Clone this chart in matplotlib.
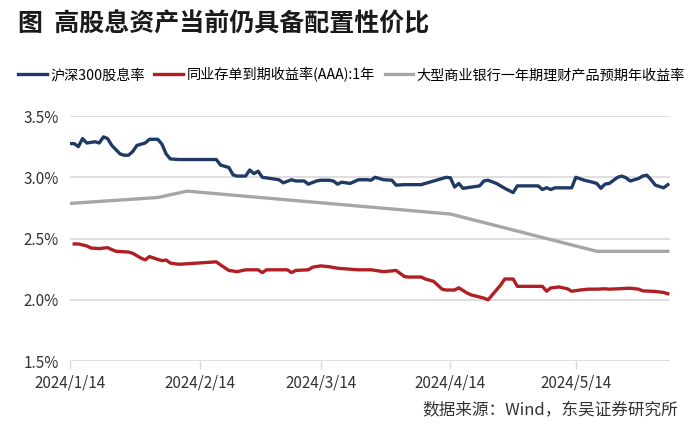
import matplotlib
matplotlib.use("Agg")
import matplotlib.pyplot as plt
import matplotlib.ticker as mticker
import pandas as pd

plt.rcParams['font.family'] = ['Noto Sans CJK SC', 'DejaVu Sans']

# 沪深300股息率 (%)
hs300_dates = [
    "2024-01-14", "2024-01-15", "2024-01-16", "2024-01-17", "2024-01-18", "2024-01-20",
    "2024-01-21", "2024-01-22", "2024-01-23", "2024-01-24", "2024-01-26", "2024-01-27",
    "2024-01-28", "2024-01-29", "2024-01-30", "2024-02-01", "2024-02-02", "2024-02-04",
    "2024-02-05", "2024-02-06", "2024-02-07", "2024-02-09", "2024-02-18", "2024-02-19",
    "2024-02-21", "2024-02-22", "2024-02-23", "2024-02-25", "2024-02-26", "2024-02-27",
    "2024-02-28", "2024-02-29", "2024-03-02", "2024-03-04", "2024-03-05", "2024-03-07",
    "2024-03-08", "2024-03-10", "2024-03-11", "2024-03-13", "2024-03-14", "2024-03-16",
    "2024-03-17", "2024-03-18", "2024-03-19", "2024-03-21", "2024-03-23", "2024-03-25",
    "2024-03-26", "2024-03-27", "2024-03-29", "2024-03-31", "2024-04-01", "2024-04-03",
    "2024-04-07", "2024-04-09", "2024-04-11", "2024-04-13", "2024-04-14", "2024-04-15",
    "2024-04-16", "2024-04-17", "2024-04-19", "2024-04-21", "2024-04-22", "2024-04-23",
    "2024-04-25", "2024-04-27", "2024-04-29", "2024-04-30", "2024-05-05", "2024-05-06",
    "2024-05-07", "2024-05-08", "2024-05-09", "2024-05-13", "2024-05-14", "2024-05-16",
    "2024-05-18", "2024-05-19", "2024-05-20", "2024-05-21", "2024-05-22", "2024-05-24",
    "2024-05-25", "2024-05-26", "2024-05-27", "2024-05-29", "2024-05-30", "2024-05-31",
    "2024-06-01", "2024-06-02", "2024-06-04", "2024-06-05",
]
hs300_yield = [
    3.275, 3.275, 3.25, 3.316, 3.28, 3.29,
    3.28, 3.33, 3.316, 3.26, 3.19, 3.18,
    3.18, 3.21, 3.26, 3.28, 3.31, 3.31,
    3.27, 3.19, 3.15, 3.145, 3.145, 3.10,
    3.08, 3.02, 3.01, 3.01, 3.06, 3.03,
    3.05, 3.00, 2.99, 2.98, 2.955, 2.98,
    2.97, 2.97, 2.944, 2.97, 2.976, 2.976,
    2.97, 2.944, 2.96, 2.95, 2.98, 2.98,
    2.976, 3.00, 2.98, 2.976, 2.936, 2.94,
    2.94, 2.96, 2.98, 3.00, 2.996, 2.92,
    2.95, 2.91, 2.92, 2.93, 2.97, 2.976,
    2.95, 2.91, 2.875, 2.93, 2.93, 2.90,
    2.915, 2.90, 2.914, 2.914, 3.00, 2.976,
    2.96, 2.95, 2.91, 2.945, 2.95, 3.00,
    3.01, 2.996, 2.97, 2.99, 3.01, 3.017,
    2.98, 2.936, 2.914, 2.94,
]

# 同业存单到期收益率(AAA):1年 (%)
ncd_dates = [
    "2024-01-15", "2024-01-16", "2024-01-18", "2024-01-19", "2024-01-21", "2024-01-23",
    "2024-01-24", "2024-01-25", "2024-01-28", "2024-01-29", "2024-01-31", "2024-02-01",
    "2024-02-02", "2024-02-04", "2024-02-05", "2024-02-06", "2024-02-07", "2024-02-09",
    "2024-02-18", "2024-02-19", "2024-02-21", "2024-02-23", "2024-02-25", "2024-02-28",
    "2024-02-29", "2024-03-01", "2024-03-06", "2024-03-07", "2024-03-08", "2024-03-11",
    "2024-03-12", "2024-03-14", "2024-03-16", "2024-03-18", "2024-03-21", "2024-03-23",
    "2024-03-26", "2024-03-27", "2024-03-29", "2024-03-31", "2024-04-01", "2024-04-03",
    "2024-04-04", "2024-04-07", "2024-04-08", "2024-04-10", "2024-04-12", "2024-04-13",
    "2024-04-15", "2024-04-16", "2024-04-18", "2024-04-19", "2024-04-22", "2024-04-23",
    "2024-04-24", "2024-04-26", "2024-04-27", "2024-04-29", "2024-04-30", "2024-05-01",
    "2024-05-06", "2024-05-07", "2024-05-08", "2024-05-10", "2024-05-12", "2024-05-13",
    "2024-05-15", "2024-05-17", "2024-05-19", "2024-05-21", "2024-05-22", "2024-05-24",
    "2024-05-27", "2024-05-29", "2024-05-30", "2024-06-01", "2024-06-02", "2024-06-04",
    "2024-06-05",
]
ncd_yield = [
    2.456, 2.456, 2.44, 2.423, 2.418, 2.426,
    2.41, 2.396, 2.39, 2.38, 2.34, 2.326,
    2.353, 2.33, 2.32, 2.325, 2.30, 2.29,
    2.31, 2.285, 2.24, 2.23, 2.245, 2.245,
    2.222, 2.245, 2.245, 2.222, 2.24, 2.245,
    2.266, 2.277, 2.27, 2.258, 2.25, 2.245,
    2.245, 2.24, 2.23, 2.236, 2.24, 2.19,
    2.186, 2.186, 2.17, 2.15, 2.087, 2.08,
    2.08, 2.098, 2.055, 2.04, 2.014, 2.00,
    2.04, 2.12, 2.17, 2.17, 2.11, 2.11,
    2.11, 2.07, 2.097, 2.105, 2.09, 2.07,
    2.08, 2.087, 2.087, 2.09, 2.087, 2.09,
    2.095, 2.087, 2.073, 2.07, 2.068, 2.06,
    2.05,
]

# 大型商业银行一年期理财产品预期年收益率 (%)
wm_dates = ["2024-01-14", "2024-02-04", "2024-02-11", "2024-04-14", "2024-05-19", "2024-06-05"]
wm_yield = [2.787, 2.835, 2.887, 2.70, 2.396, 2.396]

series_names = ["沪深300股息率", "同业存单到期收益率(AAA):1年", "大型商业银行一年期理财产品预期年收益率"]
series_colors = ["#203a66", "#b01f24", "#a6a6a6"]

tick_dates = ["2024-01-14", "2024-02-14", "2024-03-14", "2024-04-14", "2024-05-14"]
tick_labels = ["2024/1/14", "2024/2/14", "2024/3/14", "2024/4/14", "2024/5/14"]
y_ticks = [1.5, 2.0, 2.5, 3.0, 3.5]

fig = plt.figure(figsize=(7, 4.48), dpi=100)
ax = fig.add_axes([0.1, 0.194, 0.857, 0.547])

for d, v, name, c in zip([hs300_dates, ncd_dates, wm_dates],
                         [hs300_yield, ncd_yield, wm_yield],
                         series_names, series_colors):
    ax.plot(pd.to_datetime(d), v, color=c, lw=2.4, label=name, solid_joinstyle='round')

ax.set_ylim(1.5, 3.5)
ax.set_yticks(y_ticks)
ax.yaxis.set_major_formatter(mticker.FuncFormatter(lambda v, p: f"{v:.1f}%"))
ax.set_xlim(pd.Timestamp("2024-01-14"), pd.Timestamp("2024-06-05 12:00"))
ax.set_xticks(pd.to_datetime(tick_dates))
ax.set_xticklabels(tick_labels)

ax.grid(axis='y', color='#d9d9d9', lw=1.2)
ax.set_axisbelow(True)
for s in ax.spines.values():
    s.set_visible(False)
ax.tick_params(axis='y', length=0, pad=8, labelsize=11, labelcolor='#333333')
ax.tick_params(axis='x', length=6, color='#d9d9d9', width=1, pad=4,
               labelsize=11, labelcolor='#333333')

fig.text(0.026, 0.945, "图  高股息资产当前仍具备配置性价比", fontsize=18,
         fontweight='bold', color='#1a1a1a', va='center', ha='left')

fig.legend(loc='center left', bbox_to_anchor=(0.026, 0.833), ncol=3, frameon=False,
           fontsize=10.2, handlelength=2.0, handletextpad=0.25, columnspacing=0.7,
           borderaxespad=0, borderpad=0)

fig.text(0.968, 0.083, "数据来源：Wind，东吴证券研究所", fontsize=12,
         color='#333333', ha='right', va='center')

fig.savefig("out.png", dpi=100)
